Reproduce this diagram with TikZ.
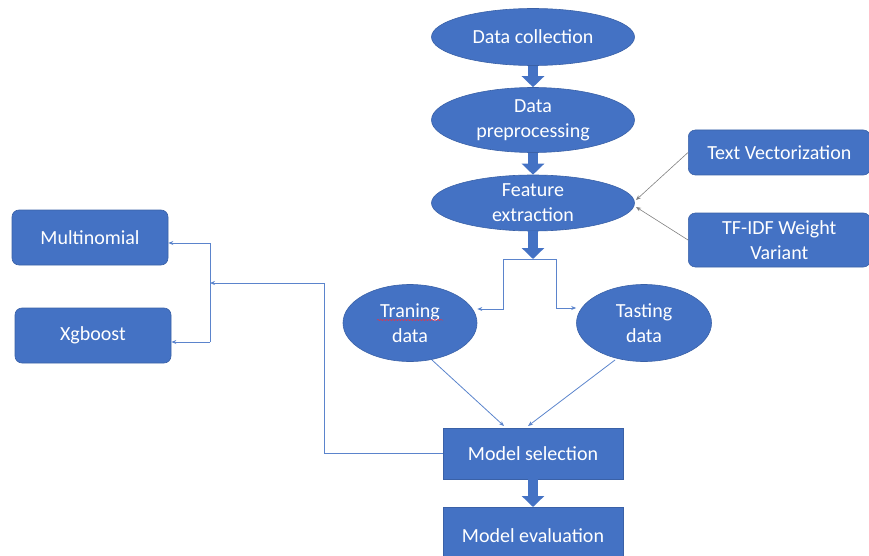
\documentclass[tikz,border=0pt]{standalone}
\usepackage{fontspec}
\setmainfont{Carlito}
\usetikzlibrary{arrows.meta,shapes.geometric,decorations.pathmorphing}
\definecolor{obl}{HTML}{4472C4}
\definecolor{lbl}{HTML}{5B84CC}
\tikzset{
  base/.style={fill=obl, draw=obl!85!black, line width=0.6pt, text=white, font=\fontsize{20}{25}\selectfont, align=center, inner sep=0pt},
  ell/.style={base, ellipse},
  rbox/.style={base, rectangle, rounded corners=7pt},
  sbox/.style={base, rectangle},
  bigarrow/.style={draw=obl, line width=10pt, -{Triangle[width=22pt,length=11pt]}},
  thin/.style={draw=lbl, line width=0.8pt, -{Stealth[length=5pt,width=4pt]}},
  thinline/.style={draw=lbl, line width=0.8pt},
  grayarr/.style={draw=gray, line width=0.6pt, -{Stealth[length=5pt,width=4pt]}}
}
\begin{document}
\begin{tikzpicture}[x=1pt,y=-1pt]
\useasboundingbox (0,0) rectangle (869,556);
\node[ell, minimum width=203pt, minimum height=57pt] (dc) at (533,37) {Data collection};
\node[ell, minimum width=203pt, minimum height=65pt] (dp) at (533,120) {Data\\preprocessing};
\node[ell, minimum width=203pt, minimum height=56pt] (fe) at (533,203) {Feature\\extraction};
\node[ell, minimum width=134pt, minimum height=77pt] (tr) at (410,323) {Traning\\data};
\node[ell, minimum width=135pt, minimum height=77pt] (ts) at (644,323) {Tasting\\data};
\node[sbox, minimum width=180pt, minimum height=51pt] (ms) at (533,453.5) {Model selection};
\node[sbox, minimum width=180pt, minimum height=56pt, anchor=north] (me) at (533,507) {Model evaluation};
\node[rbox, minimum width=182pt, minimum height=45pt, anchor=west] (tv) at (688,152.5) {Text Vectorization};
\node[rbox, minimum width=182pt, minimum height=54pt, anchor=west] (tf) at (688,240) {TF-IDF Weight\\Variant};
\node[rbox, minimum width=156pt, minimum height=55pt] (mn) at (90,237.5) {Multinomial};
\node[rbox, minimum width=156pt, minimum height=55pt] (xg) at (93,335.5) {Xgboost};
% wavy underline under Traning
\draw[red!60!purple!80!white, line width=0.5pt, decorate, decoration={snake, amplitude=0.5pt, segment length=3pt}] (377,320) -- (443,320);
% thick arrows
\draw[bigarrow] (dc.south) -- (dp.north);
\draw[bigarrow] (dp.south) -- (fe.north);
\coordinate (split) at (533,259);
\draw[bigarrow] (fe.south) -- (split);
\draw[bigarrow] (ms.south) -- (me.north);
% split lines
\draw[thinline] (503,259) -- (556,259);
\draw[thin] (503,259) -- (503,309) -- (tr.east |- 0,309);
\draw[thin] (556,259) -- (556,308) -- (ts.west |- 0,308);
% to model selection
\draw[thin] (432,360) -- (504,426);
\draw[thin] (615,360) -- (528,426);
% model selection to classifiers
\coordinate (jn) at (210,283);
\draw[thin] (ms.west) -- (324,453.5) -- (324,283) -- (jn);
\draw[thinline] (210,243) -- (210,342);
\draw[thin] (210,243) -- (mn.east |- 0,243);
\draw[thin] (210,342) -- (xg.east |- 0,342);
% feature inputs
\draw[grayarr] (tv.west) -- (636,200);
\draw[grayarr] (tf.west) -- (636,207);
\end{tikzpicture}
\end{document}
